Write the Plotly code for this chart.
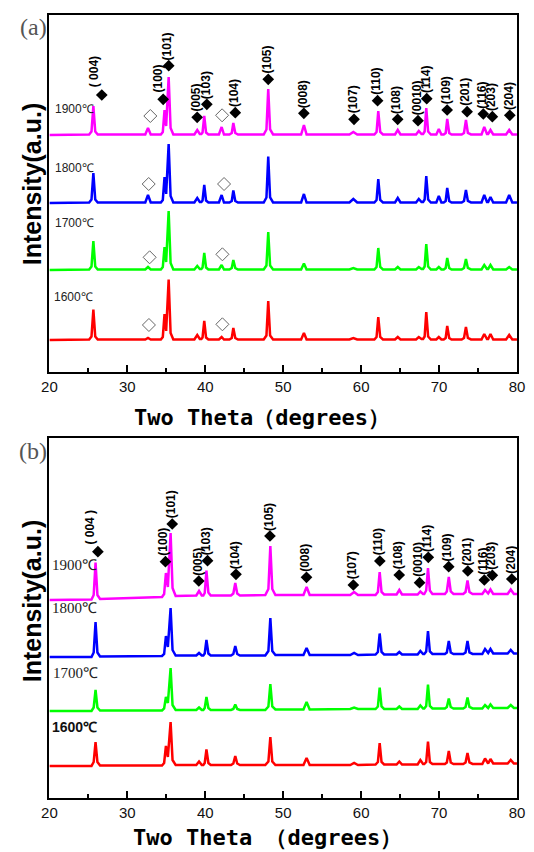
import plotly.graph_objects as go

W, H = 534, 852

temps = ["1600℃", "1700℃", "1800℃", "1900℃"]
colors = ["#FF0000", "#00FF00", "#0000FF", "#FF00FF"]

# ---------------- panel (a) ----------------
tt_a = [20.0,
        25.1, 25.4, 25.64, 25.88, 26.2,
        32.3, 32.65, 33.0,
        34.3, 34.55, 34.77, 34.98, 35.3, 35.55, 35.9,
        38.6, 38.97, 39.3,
        39.5, 39.65, 39.87, 40.1, 40.4,
        41.75, 42.1, 42.4,
        43.1, 43.4, 43.6, 43.85, 44.2,
        47.5, 47.85, 48.08, 48.32, 48.7,
        52.3, 52.66, 53.0,
        58.5, 59.0, 59.5,
        61.7, 61.98, 62.2, 62.45, 62.8,
        64.35, 64.7, 65.05,
        67.05, 67.4, 67.75,
        67.95, 68.15, 68.36, 68.6, 68.95,
        69.65, 69.97, 70.3,
        70.6, 70.85, 71.05, 71.3, 71.6,
        72.9, 73.2, 73.45, 73.7, 74.1,
        75.45, 75.8, 76.15,
        76.3, 76.6, 76.95,
        78.6, 79.0, 79.4,
        80.0]

I_1900_a = [0,
            0.5, 3.5, 29, 3.5, 0.5,
            0.5, 7, 0.5,
            0.5, 3, 25, 9, 58, 7, 0.5,
            0.5, 5, 1,
            1, 2.5, 19, 2.5, 0.5,
            0.5, 8, 0.5,
            0.5, 2, 12, 2, 0.5,
            0.5, 5.5, 46, 5.5, 0.5,
            0.5, 10, 0.5,
            0.5, 3, 0.5,
            0.5, 3, 24, 3, 0.5,
            0.5, 5, 0.5,
            0.5, 4, 1,
            1, 3.5, 27, 3.5, 0.5,
            0.5, 6, 0.5,
            0.5, 2, 16, 2, 0.5,
            0.5, 2, 15, 2, 0.5,
            0.5, 8, 1,
            1, 5, 0.5,
            0.5, 5, 0.5,
            0.5]

I_1800_a = [0,
            0.5, 3.5, 30, 3.5, 0.5,
            0.5, 8, 0.5,
            0.5, 3, 26, 9, 59, 7, 0.5,
            0.5, 5, 1,
            1, 2.5, 18, 2.5, 0.5,
            0.5, 8, 0.5,
            0.5, 2, 12.5, 2, 0.5,
            0.5, 5.5, 46.5, 5.5, 0.5,
            0.5, 9, 0.5,
            0.5, 4, 0.5,
            0.5, 3, 24, 3, 0.5,
            0.5, 5, 0.5,
            0.5, 4, 1,
            1, 3.5, 27, 3.5, 0.5,
            0.5, 7, 0.5,
            0.5, 2, 15, 2, 0.5,
            0.5, 2, 13, 2, 0.5,
            0.5, 8, 1,
            1, 6, 0.5,
            0.5, 8, 0.5,
            0.5]

I_1700_a = [0,
            0.5, 3.5, 29, 3.5, 0.5,
            0.5, 3, 0.5,
            0.5, 3, 23, 8, 59, 7, 0.5,
            0.5, 4, 1,
            1, 2.5, 17, 2.5, 0.5,
            0.5, 5, 0.5,
            0.5, 2, 10, 2, 0.5,
            0.5, 4.5, 38, 4.5, 0.5,
            0.5, 6.5, 0.5,
            0.5, 2, 0.5,
            0.5, 3, 22, 3, 0.5,
            0.5, 3, 0.5,
            0.5, 3, 1,
            1, 3.5, 26, 3.5, 0.5,
            0.5, 3, 0.5,
            0.5, 2, 12, 2, 0.5,
            0.5, 2, 11, 2, 0.5,
            0.5, 5, 1,
            1, 5, 0.5,
            0.5, 3, 0.5,
            0.5]

I_1600_a = [0,
            0.5, 3.5, 30.5, 3.5, 0.5,
            0.5, 2, 0.5,
            0.5, 3, 26, 9, 60.5, 7, 0.5,
            0.5, 5, 1,
            1, 2.5, 19, 2.5, 0.5,
            0.5, 3, 0.5,
            0.5, 2, 12, 2, 0.5,
            0.5, 4.5, 39, 4.5, 0.5,
            0.5, 7, 0.5,
            0.5, 2, 0.5,
            0.5, 3, 23, 3, 0.5,
            0.5, 3, 0.5,
            0.5, 3, 1,
            1, 3.5, 28, 3.5, 0.5,
            0.5, 3, 0.5,
            0.5, 2, 14, 2, 0.5,
            0.5, 2, 13, 2, 0.5,
            0.5, 6, 1,
            1, 6, 0.5,
            0.5, 5, 0.5,
            0.5]

hkl_a = ["( 004)", "(100)", "(101)", "(005)", "(103)", "(104)", "(105)", "(008)",
         "(107)", "(110)", "(108)", "(0010)", "(114)", "(109)", "(201)", "(116)",
         "(203)", "(204)"]
mark_tt_a = [26.72, 34.60, 35.31, 38.96, 40.20, 43.85, 48.08, 52.65, 59.09, 62.11,
             64.69, 67.30, 68.42, 71.04, 73.60, 75.68, 76.84, 79.08]
mark_I_a = [277, 272.7, 306.3, 254.7, 267.7, 259.3, 292.7, 258.7, 252.7, 271.3,
            252.7, 251.3, 273.3, 262, 260.3, 258, 255.3, 256.7]
# secondary-phase reflections (open diamonds), one pair per pattern
imp_tt_a = [32.77, 42.20, 32.86, 42.20, 32.74, 42.41, 32.95, 42.16]
imp_I_a = [47, 47.7, 114.7, 117.7, 188, 188, 256, 256.7]

# ---------------- panel (b) ----------------
tt_b = [20.0,
        25.4, 25.68, 25.92, 26.16, 26.5,
        34.45, 34.72, 34.95, 35.2, 35.55, 35.8, 36.2,
        38.85, 39.2, 39.55,
        39.75, 39.93, 40.15, 40.4, 40.7,
        43.3, 43.6, 43.85, 44.1, 44.45,
        47.7, 48.1, 48.35, 48.6, 49.0,
        52.6, 53.0, 53.4,
        58.6, 59.1, 59.6,
        61.85, 62.15, 62.38, 62.62, 62.95,
        64.55, 64.9, 65.25,
        67.25, 67.6, 67.95,
        68.1, 68.35, 68.58, 68.82, 69.15,
        70.75, 71.0, 71.25, 71.5, 71.85,
        73.1, 73.4, 73.65, 73.9, 74.3,
        75.55, 75.9, 76.2,
        76.3, 76.6, 76.95,
        78.8, 79.2, 79.6,
        80.0]

I_1900_b = [0,
            0.5, 5, 37.5, 5, 1,
            3, 6, 27, 13, 67, 12, 4,
            4.5, 9, 4.5,
            4.5, 7, 29.5, 7.5, 4.5,
            4.5, 6.5, 17, 6.5, 4.5,
            5, 11, 54, 11, 5,
            5, 13, 5,
            5, 8, 5,
            5, 8, 28, 8, 5.5,
            5.5, 10, 5.5,
            5.5, 8.5, 6,
            6, 9.5, 32, 9.5, 6,
            6, 8.5, 23, 8.5, 6,
            6, 8, 19.5, 8, 6,
            6, 10, 6.5,
            6.5, 10.5, 6,
            6, 10.5, 6,
            6]

I_1800_b = [0,
            0, 4.5, 35, 4.5, 0.5,
            1, 3, 21, 10, 49, 7, 1.5,
            1.5, 4, 1.5,
            1.5, 3.5, 17, 3.5, 1.5,
            1.5, 3, 11, 3, 1.5,
            1.5, 6, 39, 6, 2,
            2, 9, 2,
            2, 4, 2,
            2.5, 5, 23.5, 5, 2.5,
            2.5, 5, 2.5,
            2.5, 6, 3,
            3, 5.5, 26, 5.5, 3,
            3, 4.5, 16, 4.5, 3,
            3, 4.5, 16, 4.5, 3,
            3, 8, 4,
            4, 8, 3.5,
            3.5, 7, 3.5,
            3.5]

I_1700_b = [0,
            0, 3.5, 21, 3.5, 0.5,
            0.5, 2.5, 14, 8, 43, 6, 1,
            1, 3.5, 1,
            1, 3, 14, 3, 1,
            1, 2, 6.5, 2, 1,
            1, 4.5, 27, 4.5, 1.5,
            1.5, 9, 1.5,
            2, 3.5, 2,
            2, 4.5, 23.5, 4.5, 2,
            2, 4.5, 2,
            2, 5.5, 2.5,
            2.5, 5, 26.5, 5, 2.5,
            2.5, 4, 12.5, 4, 2.5,
            2.5, 4, 13.5, 4, 2.5,
            2.5, 6, 3,
            3, 6.5, 3,
            3, 6, 3,
            3]

I_1600_b = [0,
            0, 4, 24, 4, 0.5,
            0.5, 3, 20, 9, 44, 6, 1,
            1, 4.5, 1,
            1, 3, 16.5, 3, 1,
            1, 2.5, 10, 2.5, 1,
            1, 4.5, 29, 4.5, 1,
            1, 8, 1,
            1, 3, 1,
            1.5, 4, 23, 4, 1.5,
            1.5, 4.5, 1.5,
            1.5, 6, 2,
            2, 4, 24.5, 4, 2,
            2, 3.5, 15, 3.5, 2,
            2, 3.5, 13, 3.5, 2,
            2, 7.5, 2.5,
            2.5, 7, 2.5,
            2.5, 6, 2.5,
            2.5]

hkl_b = ["( 004 )", "(100)", "(101)", "(005)", "(103)", "(104)", "(105)", "(008)",
         "(107)", "(110)", "(108)", "(0010)", "(114)", "(109)", "(201)", "(116)",
         "(203)", "(204)"]
mark_tt_b = [26.22, 34.89, 35.76, 39.17, 40.29, 43.94, 48.30, 52.99, 59.00, 62.40,
             64.89, 67.50, 68.62, 71.24, 73.69, 75.81, 76.84, 79.33]
mark_I_b = [246.3, 236.3, 274, 217, 237.3, 223.7, 262, 220.7, 213, 237,
            223, 215.3, 240.7, 231.3, 227, 218, 222.7, 219]

for tt, ys in ((tt_a, (I_1600_a, I_1700_a, I_1800_a, I_1900_a)),
               (tt_b, (I_1600_b, I_1700_b, I_1800_b, I_1900_b))):
    for y in ys:
        assert len(y) == len(tt)

# vertical stacking of the four patterns in each panel
stack_a = [32, 102, 169, 237]
stack_b = [32, 87, 141, 198]

# ---------------- layout helpers ----------------
X0, X1 = 42.7, 524.7
A_TOP, A_BOT = 14.7, 372.0
B_TOP, B_BOT = 438.3, 798.0


def px(x):
    return x / W


def py(y):
    return 1 - y / H


fig = go.Figure()

panels = [
    ("x", "y", tt_a, (I_1600_a, I_1700_a, I_1800_a, I_1900_a), stack_a),
    ("x2", "y2", tt_b, (I_1600_b, I_1700_b, I_1800_b, I_1900_b), stack_b),
]
for xr, yr, tt, series, stack in panels:
    for ys, off, c in zip(series, stack, colors):
        fig.add_trace(go.Scatter(
            x=tt, y=[v + off for v in ys], mode="lines",
            line=dict(color=c, width=2.5, shape="linear"),
            xaxis=xr, yaxis=yr, showlegend=False, hoverinfo="skip"))

# peak markers
fig.add_trace(go.Scatter(x=mark_tt_a, y=mark_I_a, mode="markers", xaxis="x", yaxis="y",
                         marker=dict(symbol="diamond", size=9, color="black"),
                         showlegend=False, hoverinfo="skip"))
fig.add_trace(go.Scatter(x=imp_tt_a, y=imp_I_a, mode="markers", xaxis="x", yaxis="y",
                         marker=dict(symbol="diamond", size=10, color="white",
                                     line=dict(color="#666666", width=1)),
                         showlegend=False, hoverinfo="skip"))
fig.add_trace(go.Scatter(x=mark_tt_b, y=mark_I_b, mode="markers", xaxis="x2", yaxis="y2",
                         marker=dict(symbol="diamond", size=9, color="black"),
                         showlegend=False, hoverinfo="skip"))

ann = []
hkl_font = dict(family="Liberation Sans", size=12, color="black", weight="bold")
shift_a = {0: (-8, 7), 1: (-5, 6)}
shift_b = {0: (-8, 6.5), 1: (-2.5, 5)}
for labels, tts, Is, xr, yr, shifts in ((hkl_a, mark_tt_a, mark_I_a, "x", "y", shift_a),
                                        (hkl_b, mark_tt_b, mark_I_b, "x2", "y2", shift_b)):
    for i, (lab, t, v) in enumerate(zip(labels, tts, Is)):
        dx, dy = shifts.get(i, (-1.5, 4.5))
        ann.append(dict(x=t, y=v, xref=xr, yref=yr, text=lab, textangle=-90,
                        showarrow=False, xanchor="center", yanchor="bottom",
                        xshift=dx, yshift=dy, font=hkl_font, borderpad=0))

# temperature labels
lab_a = [(45, 296.7), (46, 223.3), (46.7, 167.7), (46.7, 109)]
for t, (lx, ly) in zip(temps, lab_a):
    ann.append(dict(x=px(lx), y=py(ly), xref="paper", yref="paper", text=t,
                    showarrow=False, xanchor="left", yanchor="middle",
                    font=dict(family="Liberation Sans", size=12, color="#222222")))
lab_b = [(43.5, 727), (44, 673), (43.5, 607.5), (43.3, 565)]
fonts_b = [dict(family="Liberation Sans", size=14, color="#111111", weight="bold"),
           dict(family="Liberation Serif", size=15, color="#222222"),
           dict(family="Liberation Serif", size=15, color="#222222"),
           dict(family="Liberation Serif", size=15, color="#222222")]
for t, (lx, ly), f in zip(temps, lab_b, fonts_b):
    ann.append(dict(x=px(lx), y=py(ly), xref="paper", yref="paper", text=t,
                    showarrow=False, xanchor="left", yanchor="middle", font=f))

# panel tags, axis titles
for tag, (tx, ty) in (("(a)", (26.7, 27)), ("(b)", (26, 451))):
    ann.append(dict(x=px(tx), y=py(ty), xref="paper", yref="paper", text=tag,
                    showarrow=False, xanchor="center", yanchor="middle",
                    font=dict(family="Liberation Serif", size=24, color="#555555")))
for cy in (184, 601):
    ann.append(dict(x=px(25), y=py(cy), xref="paper", yref="paper",
                    text="Intensity(a.u.)", textangle=-90, showarrow=False,
                    xanchor="center", yanchor="middle",
                    font=dict(family="Liberation Sans", size=25, color="black",
                              weight="bold")))
for txt, (cx, by) in (("Two Theta（degrees）", (262, 431)),
                      ("Two Theta （degrees）", (267, 851))):
    ann.append(dict(x=px(cx), y=py(by), xref="paper", yref="paper", text=txt,
                    showarrow=False, xanchor="center", yanchor="bottom",
                    borderpad=0,
                    font=dict(family="DejaVu Sans Mono", size=22, color="black",
                              weight="bold")))

xax = dict(range=[20, 80], domain=[px(X0), px(X1)], showgrid=False, zeroline=False,
           showline=True, linecolor="black", linewidth=2, mirror=True,
           ticks="inside", ticklen=7, tickwidth=1.5, tickcolor="black",
           tickvals=[20, 30, 40, 50, 60, 70, 80],
           ticktext=["20", "30", "40", "50", "60", "70", "80"],
           minor=dict(ticks="inside", ticklen=4, tickwidth=1.5, tickcolor="black",
                      tickvals=[25, 35, 45, 55, 65, 75]),
           tickfont=dict(family="Liberation Sans", size=15, color="#111111"))
yax = dict(showgrid=False, zeroline=False, showline=True, linecolor="black",
           linewidth=2, mirror=True, ticks="", showticklabels=False)

fig.update_layout(
    width=W, height=H, margin=dict(l=0, r=0, t=0, b=0),
    paper_bgcolor="white", plot_bgcolor="white", showlegend=False,
    xaxis=dict(xax, anchor="y"),
    yaxis=dict(yax, range=[0, A_BOT - A_TOP], domain=[py(A_BOT), py(A_TOP)], anchor="x"),
    xaxis2=dict(xax, anchor="y2"),
    yaxis2=dict(yax, range=[0, B_BOT - B_TOP], domain=[py(B_BOT), py(B_TOP)], anchor="x2"),
    annotations=ann,
)

fig.write_html("out.html")
